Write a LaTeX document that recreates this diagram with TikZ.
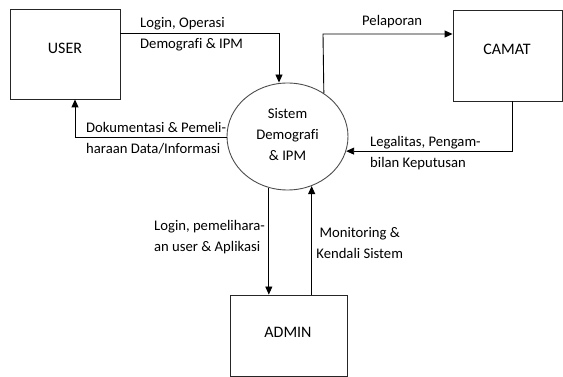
\documentclass[tikz,border=0pt]{standalone}
\usepackage{fontspec}
\setmainfont{Carlito}[Ligatures=CommonOff]
\usetikzlibrary{shapes.geometric,arrows.meta}
\begin{document}
\begin{tikzpicture}[x=1pt,y=-1pt,
  entity/.style={draw=black!85,line width=0.9pt,inner sep=0pt},
  proc/.style={ellipse,draw=black!70,line width=0.9pt,inner sep=0pt,minimum width=121pt,minimum height=107pt},
  arr/.style={line width=0.9pt,-{Triangle[length=8pt,width=7pt]}},
  lbl/.style={inner sep=0pt,align=left,font=\fontsize{14.67}{21}\selectfont},
  boxtxt/.style={inner sep=0pt,font=\fontsize{16}{19}\selectfont}]
\useasboundingbox (0,0) rectangle (563,377);
% entities
\node[entity,minimum width=110pt,minimum height=90pt] (user) at (65,54) {};
\node[boxtxt] (usert) at (65,48) {USER};
\node[entity,minimum width=109pt,minimum height=91pt] (camat) at (507.5,55.5) {};
\node[boxtxt] (camatt) at (507,49) {CAMAT};
\node[entity,minimum width=117pt,minimum height=81pt] (admin) at (288.5,335.5) {};
\node[boxtxt] (admint) at (288,332) {ADMIN};
% process
\node[proc] (sys) at (287.5,136.5) {};
\node[inner sep=0pt,align=center,font=\fontsize{14.67}{21}\selectfont] (syst) at (287.5,135) {Sistem\\Demografi\\\& IPM};
% helper coordinates
\coordinate (b1) at (279,33);
\coordinate (b2) at (323,34);
\coordinate (c3) at (512,0);
\coordinate (c4) at (75,0);
% connectors
\draw[arr] (b1 -| user.east) -- (b1) -- (b1 |- sys.north);
\draw[arr] (sys.50.7) -- (b2) -- (b2 -| camat.west);
\draw[arr] (camat.south -| c3) |- (sys.-14);
\draw[arr] (sys.181.6) -| (c4 |- user.south);
\draw[arr] (sys.250) -- (sys.250 |- admin.north);
\draw[arr] (sys.-64.5 |- admin.north) -- (sys.-64.5);
% labels
\node[lbl,anchor=west] (l1) at (140,34.5) {Login, Operasi\\Demografi \& IPM};
\node[lbl,anchor=west] (l2) at (362,22) {Pelaporan};
\node[lbl,anchor=west] (l3) at (370,153) {Legalitas, Pengam-\\bilan Keputusan};
\node[lbl,anchor=west] (l4) at (86,138.5) {Dokumentasi \& Pemeli-\\haraan Data/Informasi};
\node[lbl,anchor=west] (l5) at (154,237.5) {Login, pemelihara-\\an user \& Aplikasi};
\node[lbl,align=center] (l6) at (359.7,243) {Monitoring \&\\Kendali Sistem};
\end{tikzpicture}
\end{document}
